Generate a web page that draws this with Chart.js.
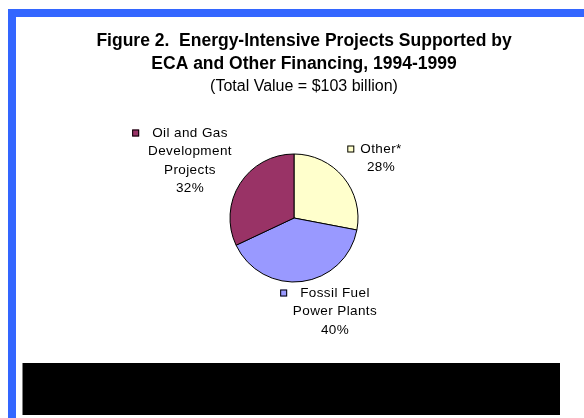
<!DOCTYPE html>
<html>
<head>
<meta charset="utf-8">
<script src="https://cdn.jsdelivr.net/npm/chart.js@4/dist/chart.umd.min.js"></script>
<style>
  html, body { margin: 0; padding: 0; background: #fff; overflow: hidden; }
  #wrap { position: relative; width: 584px; height: 418px; }
</style>
</head>
<body>
<div id="wrap"><canvas id="c" width="584" height="418"></canvas></div>
<script>
// Shares of total financing by project type (percent), clockwise from 12 o'clock
const categories = ['Other*', 'Fossil Fuel Power Plants', 'Oil and Gas Development Projects'];
const shares = [28, 40, 32];
const categoryLines = [['Other*'], ['Fossil Fuel', 'Power Plants'], ['Oil and Gas', 'Development', 'Projects']];
const sliceColors = ['#FFFFCC', '#9999FF', '#993366'];
const titleLines = ['Figure 2.  Energy-Intensive Projects Supported by', 'ECA and Other Financing, 1994-1999'];
const subtitleText = '(Total Value = $103 billion)';

// Where each slice's caption sits, relative to the pie centre, and the gap before its key square
const captionPlacement = [
  { dx: 87, dy: -69, keyGap: 6 },
  { dx: 41, dy: 75, keyGap: 13 },
  { dx: -104, dy: -85, keyGap: 13 }
];

const FONT = '"Liberation Sans", Arial, Helvetica, sans-serif';

const framePlugin = {
  id: 'frame',
  beforeDraw(chart) {
    const ctx = chart.ctx;
    ctx.save();
    ctx.fillStyle = '#ffffff';
    ctx.fillRect(0, 0, chart.width, chart.height);
    // blue border along the top and left
    ctx.fillStyle = '#3366FF';
    ctx.fillRect(8, 9, chart.width - 8, 8);
    ctx.fillRect(8, 9, 8, chart.height - 9);
    // black panel beneath the chart
    ctx.fillStyle = '#000000';
    ctx.fillRect(22.5, 363, 537.5, 52);
    ctx.restore();
  }
};

const textPlugin = {
  id: 'texts',
  afterDatasetsDraw(chart) {
    const ctx = chart.ctx;
    ctx.save();
    ctx.fillStyle = '#000';
    ctx.textAlign = 'center';
    ctx.textBaseline = 'middle';

    // heading
    ctx.font = 'bold 17.5px ' + FONT;
    ctx.letterSpacing = '0px';
    ctx.fillText(titleLines[0], 304, 41);
    ctx.fillText(titleLines[1], 304, 64);
    ctx.font = '16px ' + FONT;
    ctx.fillText(subtitleText, 304, 87);

    // slice captions with key squares
    const meta = chart.getDatasetMeta(0);
    const total = shares.reduce((a, b) => a + b, 0);
    ctx.font = '13.5px ' + FONT;
    ctx.letterSpacing = '0.4px';
    meta.data.forEach((arc, i) => {
      const p = captionPlacement[i];
      const cx = arc.x + p.dx;
      const y0 = arc.y + p.dy;
      const pct = Math.round(shares[i] / total * 100) + '%';
      const lines = categoryLines[i].concat([pct]);
      lines.forEach((line, k) => {
        ctx.fillStyle = '#000';
        ctx.fillText(line, cx, y0 + k * 18.5);
      });
      const w = ctx.measureText(lines[0]).width;
      const keyX = cx - w / 2 - p.keyGap - 7;
      ctx.fillStyle = sliceColors[i];
      ctx.fillRect(keyX, y0 - 3.5, 7, 7);
      ctx.strokeStyle = '#000';
      ctx.lineWidth = 1;
      ctx.strokeRect(keyX + 0.5, y0 - 3, 6, 6);
    });
    ctx.restore();
  }
};

new Chart(document.getElementById('c'), {
  type: 'pie',
  data: {
    labels: categories,
    datasets: [{
      data: shares,
      backgroundColor: sliceColors,
      borderColor: '#000000',
      borderWidth: 1
    }]
  },
  options: {
    responsive: false,
    animation: false,
    radius: 64,
    layout: { padding: { left: 154, right: 150, top: 148, bottom: 130 } },
    plugins: {
      legend: { display: false },
      tooltip: { enabled: false },
      title: { display: false }
    }
  },
  plugins: [framePlugin, textPlugin]
});
</script>
</body>
</html>
